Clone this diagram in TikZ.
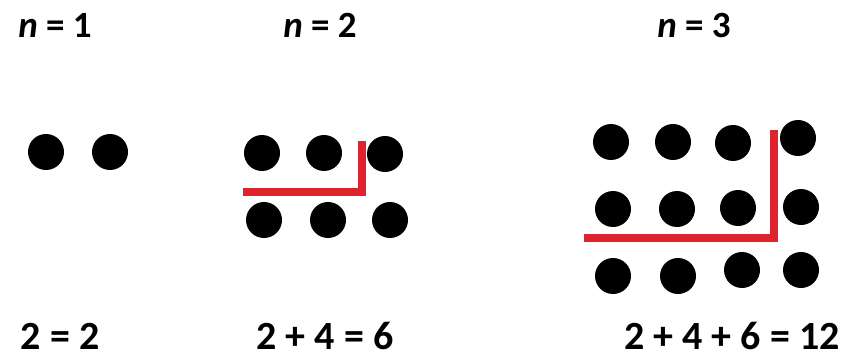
\documentclass[tikz,border=0pt]{standalone}
\usepackage{fontspec}
\setmainfont{Carlito}
\definecolor{markred}{RGB}{222,34,46}

\begin{document}
\begin{tikzpicture}[
  x=1pt, y=-1pt,
  bead/.style={circle, fill=black, minimum size=36pt, inner sep=0pt},
  head/.style={anchor=base, inner sep=0pt, text depth=0pt, font=\fontsize{37}{40}\selectfont\bfseries},
  total/.style={anchor=base, inner sep=0pt, text depth=0pt, font=\fontsize{40}{43}\selectfont\bfseries},
  split/.style={draw=markred, line width=7.5pt}
]
  \useasboundingbox (0,0) rectangle (850,358);

  % headings
  \node[head] (h1) at (55,38)  {\textit{n} = 1};
  \node[head] (h2) at (320,38) {\textit{n} = 2};
  \node[head] (h3) at (694,38) {\textit{n} = 3};

  % n = 1
  \node[bead] (a1) at (46,152)  {};
  \node[bead] (a2) at (110,152) {};

  % n = 2
  \node[bead] (b11) at (262,153) {};
  \node[bead] (b12) at (324,153) {};
  \node[bead] (b13) at (385,154) {};
  \node[bead] (b21) at (264,220) {};
  \node[bead] (b22) at (328,220) {};
  \node[bead] (b23) at (390,220) {};
  \coordinate (bl) at (243,192);
  \coordinate (bc) at (362,192);
  \coordinate (bt) at (362,141);
  \draw[split] (bl) -- (bc) -- (bt);

  % n = 3
  \node[bead] (c11) at (611,142) {};
  \node[bead] (c12) at (673,142) {};
  \node[bead] (c13) at (733,143) {};
  \node[bead] (c14) at (798,138) {};
  \node[bead] (c21) at (613,209) {};
  \node[bead] (c22) at (677,209) {};
  \node[bead] (c23) at (738,208) {};
  \node[bead] (c24) at (801,207) {};
  \node[bead] (c31) at (613,276) {};
  \node[bead] (c32) at (678,276) {};
  \node[bead] (c33) at (742,270) {};
  \node[bead] (c34) at (801,270) {};
  \coordinate (cl) at (584,238);
  \coordinate (cc) at (774,238);
  \coordinate (ct) at (774,130);
  \draw[split] (cl) -- (cc) -- (ct);

  % sums
  \node[total] (s1) at (60,349)  {2 = 2};
  \node[total] (s2) at (325,349) {2 + 4 = 6};
  \node[total] (s3) at (732,349) {2 + 4 + 6 = 12};
\end{tikzpicture}
\end{document}
